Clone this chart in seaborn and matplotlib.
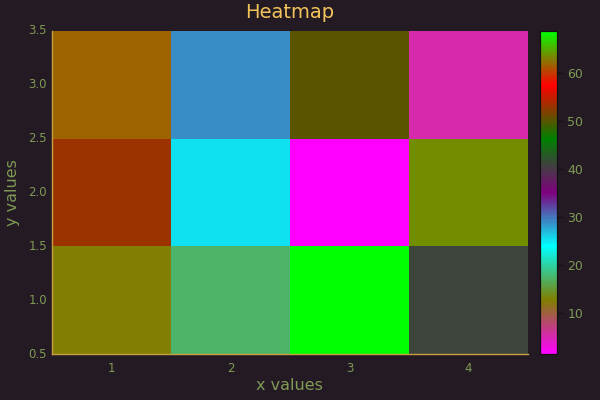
import numpy as np
import pandas as pd
import matplotlib
matplotlib.use("Agg")
import matplotlib.pyplot as plt
from matplotlib.colors import LinearSegmentedColormap
import seaborn as sns

# values
x_vals = [1, 2, 3, 4]
y_vals = [1, 2, 3]
z_y1 = [12.6, 17.2, 68.7, 40.9]
z_y2 = [53.0, 25.2, 1.4, 63.6]
z_y3 = [61.8, 28.9, 50.2, 5.2]
y_tick_vals = [0.5, 1.0, 1.5, 2.0, 2.5, 3.0, 3.5]
cbar_ticks = [10, 20, 30, 40, 50, 60]

bg = "#241a24"
txt = "#7f9a55"
gold = "#c8a040"

cmap = LinearSegmentedColormap.from_list(
    "grad", ["#ff00ff", "#808000", "#00ffff", "#800080", "#008000", "#ff0000", "#00ff00"])

# seaborn puts row 0 at the top, so list rows from y=3 down to y=1
df = pd.DataFrame([z_y3, z_y2, z_y1], index=y_vals[::-1], columns=x_vals)

sns.set_style("dark")
plt.rcParams["font.family"] = ["DejaVu Sans"]

fig = plt.figure(figsize=(6, 4), dpi=100, facecolor=bg)
ax = fig.add_axes([0.0867, 0.115, 0.793, 0.8075])
cax = fig.add_axes([0.9, 0.115, 0.028, 0.8075])

sns.heatmap(df, ax=ax, cbar_ax=cax, cmap=cmap, vmin=1.4, vmax=68.7,
            linewidths=0, cbar_kws={"ticks": cbar_ticks})

ax.set_facecolor(bg)
ax.set_xticks([i + 0.5 for i in range(len(x_vals))])
ax.set_xticklabels([str(v) for v in x_vals], rotation=0)
nrow = len(y_vals)
ax.set_yticks([nrow + 0.5 - v for v in y_tick_vals])
ax.set_yticklabels([f"{v:.1f}" for v in y_tick_vals], rotation=0)
ax.tick_params(axis="both", colors=gold, labelcolor=txt, labelsize=8.5,
               direction="in", length=3, width=0.8)
ax.tick_params(axis="x", pad=6)
for side in ["top", "right"]:
    ax.spines[side].set_visible(False)
for side in ["left", "bottom"]:
    ax.spines[side].set_visible(True)
    ax.spines[side].set_color(gold)
    ax.spines[side].set_linewidth(1.0)

ax.set_xlabel("x values", color=txt, fontsize=11.5, labelpad=2)
ax.set_ylabel("y values", color=txt, fontsize=11.5, labelpad=6)
ax.set_title("Heatmap", color="#f2c45a", fontsize=14, pad=9)

cax.tick_params(colors="#111111", labelcolor=txt, labelsize=9, length=4, width=1)
cax.set_facecolor(bg)
for s in cax.spines.values():
    s.set_visible(True)
    s.set_color("#111111")
    s.set_linewidth(0.8)

fig.savefig("out.png", dpi=100, facecolor=bg)
